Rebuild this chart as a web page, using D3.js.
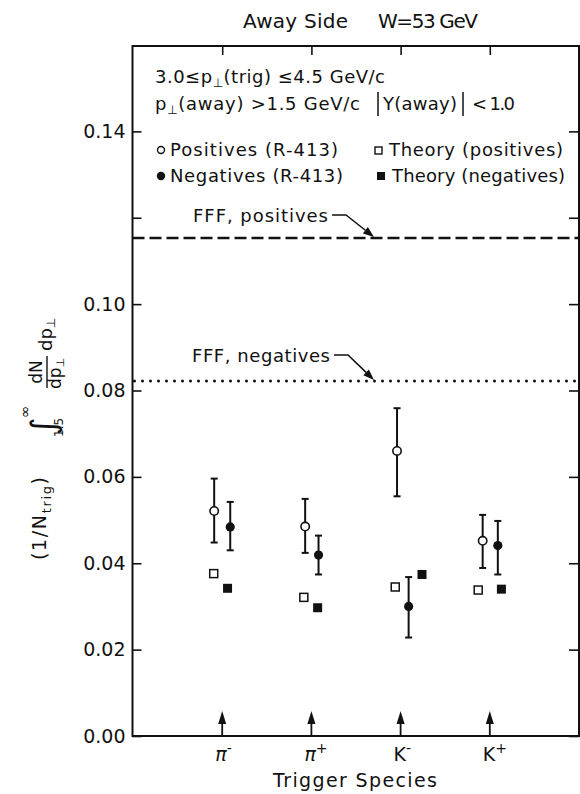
<!DOCTYPE html>
<html>
<head>
<meta charset="utf-8">
<script src="https://cdnjs.cloudflare.com/ajax/libs/d3/7.8.5/d3.min.js"></script>
<style>
  body { margin: 0; background: #fff; }
  svg text { font-family: "DejaVu Sans", sans-serif; fill: #111; }
</style>
</head>
<body>
<svg id="chart" width="580" height="794"></svg>
<script>
// ---- data ----
const speciesBase = ["π", "π", "K", "K"];
const speciesSign = ["-", "+", "-", "+"];
const speciesX = [1, 2, 3, 4];

// positives (R-413), open circles
const posX = [0.91, 1.93, 2.96, 3.92];
const posVal = [0.0521, 0.0485, 0.0660, 0.0452];
const posLo = [0.0448, 0.0424, 0.0555, 0.0389];
const posHi = [0.0596, 0.0549, 0.0759, 0.0512];

// negatives (R-413), filled circles
const negX = [1.09, 2.08, 3.09, 4.09];
const negVal = [0.0484, 0.0419, 0.0300, 0.0441];
const negLo = [0.0430, 0.0374, 0.0228, 0.0374];
const negHi = [0.0542, 0.0464, 0.0368, 0.0498];

// theory
const thPosX = [0.905, 1.915, 2.94, 3.87];
const thPosVal = [0.0376, 0.0321, 0.0345, 0.0338];
const thNegX = [1.06, 2.07, 3.24, 4.13];
const thNegVal = [0.0342, 0.0297, 0.0374, 0.0340];

// FFF levels
const fffPos = 0.1153;
const fffNeg = 0.0822;

const yTicks = [0, 0.02, 0.04, 0.06, 0.08, 0.10, 0.12, 0.14];
const yLabelled = [0, 0.02, 0.04, 0.06, 0.08, 0.10, 0.14];

// ---- layout ----
const pLeft = 132.5, pRight = 579, pTop = 46, pBottom = 736;
const ink = "#111";

const svg = d3.select("#chart");
const x = d3.scaleLinear().domain([0, 5]).range([pLeft + 0.5, pRight]);
const y = d3.scaleLinear().domain([0, 0.16]).range([pBottom, pTop - 1]);

// frame
svg.append("rect")
  .attr("x", pLeft).attr("y", pTop)
  .attr("width", pRight - pLeft).attr("height", pBottom - pTop)
  .attr("fill", "none").attr("stroke", ink).attr("stroke-width", 2);

// axes
const yAxisL = svg.append("g").attr("transform", `translate(${pLeft},0)`)
  .call(d3.axisLeft(y).tickValues(yTicks).tickSize(-9).tickPadding(7)
    .tickFormat(d => yLabelled.includes(d) ? d3.format(".2f")(d) : ""));
const yAxisR = svg.append("g").attr("transform", `translate(${pRight},0)`)
  .call(d3.axisRight(y).tickValues(yTicks).tickSize(-10).tickFormat(""));
const xAxisT = svg.append("g").attr("transform", `translate(0,${pTop})`)
  .call(d3.axisTop(x).tickValues(speciesX).tickSize(-9).tickFormat(""));
for (let ax of [yAxisL, yAxisR, xAxisT]) {
  ax.select(".domain").remove();
  ax.selectAll(".tick line").attr("stroke", ink).attr("stroke-width", 1.6);
}
yAxisL.selectAll(".tick text")
  .attr("font-family", "DejaVu Sans").attr("font-size", 19).attr("fill", ink);

// FFF lines
svg.append("line")
  .attr("x1", pLeft).attr("x2", pRight)
  .attr("y1", y(fffPos)).attr("y2", y(fffPos))
  .attr("stroke", ink).attr("stroke-width", 2.6)
  .attr("stroke-dasharray", "12,5");
svg.append("line")
  .attr("x1", pLeft + 2).attr("x2", pRight)
  .attr("y1", y(fffNeg)).attr("y2", y(fffNeg))
  .attr("stroke", ink).attr("stroke-width", 3)
  .attr("stroke-linecap", "round")
  .attr("stroke-dasharray", "0,8");

// FFF labels with arrows
function fffLabel(txt, tx, base, len, lineVal) {
  svg.append("text").attr("x", tx).attr("y", base)
    .attr("font-size", 18).attr("textLength", len).text(txt);
  const p0 = [tx + len + 4, base - 7];
  const p1 = [p0[0] + 14, base - 7];
  const tip = [374, y(lineVal) - 1];
  const dx = tip[0] - p1[0], dy = tip[1] - p1[1];
  const L = Math.hypot(dx, dy), ux = dx / L, uy = dy / L;
  const b = [tip[0] - ux * 11, tip[1] - uy * 11];
  const path = d3.path();
  path.moveTo(p0[0], p0[1]); path.lineTo(p1[0], p1[1]); path.lineTo(b[0], b[1]);
  svg.append("path").attr("d", path.toString())
    .attr("fill", "none").attr("stroke", ink).attr("stroke-width", 1.5);
  svg.append("polygon")
    .attr("points", [tip, [b[0] - uy * 4, b[1] + ux * 4], [b[0] + uy * 4, b[1] - ux * 4]]
      .map(p => p.join(",")).join(" "))
    .attr("fill", ink);
}
fffLabel("FFF, positives", 193, 222, 135, fffPos);
fffLabel("FFF, negatives", 192, 362, 138, fffNeg);

// error bars
function errorBars(xs, lo, hi) {
  const g = svg.append("g").attr("stroke", ink).attr("stroke-width", 2);
  xs.forEach((xv, i) => {
    const cx = x(xv);
    g.append("line").attr("x1", cx).attr("x2", cx).attr("y1", y(lo[i])).attr("y2", y(hi[i]));
    g.append("line").attr("x1", cx - 3.5).attr("x2", cx + 3.5).attr("y1", y(lo[i])).attr("y2", y(lo[i]));
    g.append("line").attr("x1", cx - 3.5).attr("x2", cx + 3.5).attr("y1", y(hi[i])).attr("y2", y(hi[i]));
  });
}
errorBars(posX, posLo, posHi);
errorBars(negX, negLo, negHi);

// markers
svg.append("g").selectAll("circle").data(posVal).join("circle")
  .attr("cx", (d, i) => x(posX[i])).attr("cy", d => y(d)).attr("r", 4.2)
  .attr("fill", "#fff").attr("stroke", ink).attr("stroke-width", 1.6);
svg.append("g").selectAll("circle").data(negVal).join("circle")
  .attr("cx", (d, i) => x(negX[i])).attr("cy", d => y(d)).attr("r", 4.6)
  .attr("fill", ink);
svg.append("g").selectAll("rect").data(thPosVal).join("rect")
  .attr("x", (d, i) => x(thPosX[i]) - 4).attr("y", d => y(d) - 4)
  .attr("width", 8).attr("height", 8)
  .attr("fill", "#fff").attr("stroke", ink).attr("stroke-width", 1.5);
svg.append("g").selectAll("rect").data(thNegVal).join("rect")
  .attr("x", (d, i) => x(thNegX[i]) - 4.5).attr("y", d => y(d) - 4.5)
  .attr("width", 9).attr("height", 9)
  .attr("fill", ink);

// trigger arrows and species labels along the bottom
speciesX.forEach((sx, i) => {
  const cx = x(sx);
  svg.append("line").attr("x1", cx).attr("x2", cx)
    .attr("y1", pBottom).attr("y2", 722)
    .attr("stroke", ink).attr("stroke-width", 1.8);
  svg.append("polygon")
    .attr("points", `${cx},711 ${cx - 4},724 ${cx + 4},724`)
    .attr("fill", ink);
  const t = svg.append("text").attr("x", cx - 7).attr("y", 761).attr("font-size", 19);
  t.append("tspan").attr("font-style", speciesBase[i] === "π" ? "italic" : "normal")
    .text(speciesBase[i]);
  t.append("tspan").attr("font-size", 14).attr("dy", -8).text(speciesSign[i]);
});

svg.append("text").attr("x", 355).attr("y", 787).attr("text-anchor", "middle")
  .attr("font-size", 19).attr("textLength", 164).text("Trigger Species");

// title
svg.append("text").attr("x", 243).attr("y", 28).attr("font-size", 20)
  .attr("textLength", 105).text("Away Side");
svg.append("text").attr("x", 378).attr("y", 28).attr("font-size", 20)
  .attr("textLength", 100).text("W=53 GeV");

// cut text
function withPerp(sel, pre, post) {
  sel.append("tspan").text(pre);
  sel.append("tspan").attr("font-size", 12).attr("dy", 4).text("⊥");
  sel.append("tspan").attr("dy", -4).text(post);
}
withPerp(svg.append("text").attr("x", 155).attr("y", 83).attr("font-size", 18)
  .attr("textLength", 230), "3.0≤p", "(trig) ≤4.5 GeV/c");
withPerp(svg.append("text").attr("x", 155).attr("y", 110).attr("font-size", 18)
  .attr("textLength", 205), "p", "(away) >1.5 GeV/c");
svg.append("line").attr("x1", 378).attr("x2", 378).attr("y1", 92).attr("y2", 116)
  .attr("stroke", ink).attr("stroke-width", 1.5);
svg.append("text").attr("x", 383).attr("y", 110).attr("font-size", 18)
  .attr("textLength", 74).text("Y(away)");
svg.append("line").attr("x1", 463).attr("x2", 463).attr("y1", 92).attr("y2", 116)
  .attr("stroke", ink).attr("stroke-width", 1.5);
svg.append("text").attr("x", 472).attr("y", 110).attr("font-size", 18)
  .attr("textLength", 43).text("< 1.0");

// legend
svg.append("circle").attr("cx", 161).attr("cy", 150).attr("r", 3.5)
  .attr("fill", "#fff").attr("stroke", ink).attr("stroke-width", 1.4);
svg.append("text").attr("x", 170).attr("y", 156).attr("font-size", 18)
  .attr("textLength", 168).text("Positives (R-413)");
svg.append("circle").attr("cx", 161).attr("cy", 176).attr("r", 4.2).attr("fill", ink);
svg.append("text").attr("x", 170).attr("y", 182).attr("font-size", 18)
  .attr("textLength", 173).text("Negatives (R-413)");
svg.append("rect").attr("x", 375).attr("y", 147).attr("width", 7).attr("height", 7)
  .attr("fill", "#fff").attr("stroke", ink).attr("stroke-width", 1.4);
svg.append("text").attr("x", 389).attr("y", 156).attr("font-size", 18)
  .attr("textLength", 174).text("Theory (positives)");
svg.append("rect").attr("x", 377).attr("y", 172).attr("width", 8).attr("height", 8)
  .attr("fill", ink);
svg.append("text").attr("x", 392).attr("y", 182).attr("font-size", 18)
  .attr("textLength", 173).text("Theory (negatives)");

// y axis title (rotated, built from pieces)
const yl = svg.append("g").attr("transform", "translate(46,560) rotate(-90)");
const t1 = yl.append("text").attr("x", 0).attr("y", 0).attr("font-size", 19)
  .attr("textLength", 83);
t1.append("tspan").text("(1/N");
t1.append("tspan").attr("font-size", 13).attr("dy", 5).text("trig");
t1.append("tspan").attr("dy", -5).text(")");
yl.append("text").attr("x", 125).attr("y", 9).attr("font-size", 34)
  .attr("font-style", "italic").text("∫");
yl.append("text").attr("x", 123).attr("y", 17).attr("font-size", 12).text("1.5");
yl.append("text").attr("x", 142).attr("y", -16).attr("font-size", 15).text("∞");
yl.append("text").attr("x", 188).attr("y", -4).attr("text-anchor", "middle")
  .attr("font-size", 17).text("dN");
yl.append("line").attr("x1", 172).attr("x2", 204).attr("y1", 1).attr("y2", 1)
  .attr("stroke", ink).attr("stroke-width", 1.4);
const den = yl.append("text").attr("x", 171).attr("y", 15).attr("font-size", 17);
den.append("tspan").text("dp");
den.append("tspan").attr("font-size", 11).attr("dy", 3).text("⊥");
const t2 = yl.append("text").attr("x", 209).attr("y", 6).attr("font-size", 18);
t2.append("tspan").text("dp");
t2.append("tspan").attr("font-size", 12).attr("dy", 3).text("⊥");
</script>
</body>
</html>
